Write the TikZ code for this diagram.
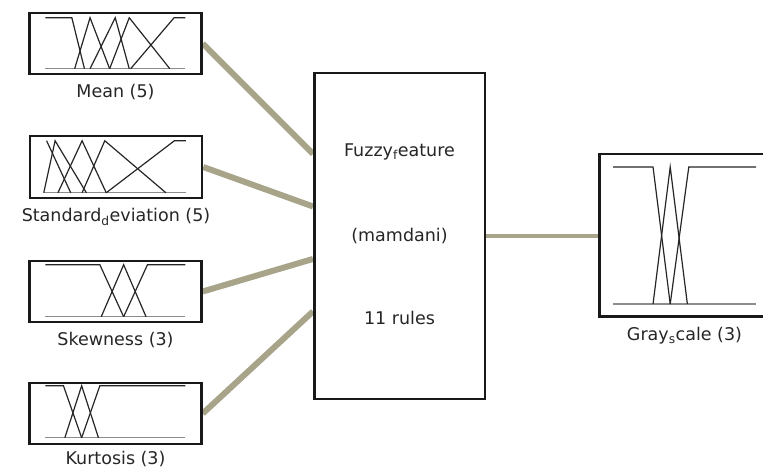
\documentclass[tikz,border=0pt]{standalone}
\usepackage{fontspec}
\setmainfont{DejaVu Sans}
\usetikzlibrary{positioning,calc,backgrounds}

\definecolor{wirecol}{HTML}{A8A48A}
\tikzset{
  mfbox/.style={draw=black!90, fill=white, line width=2.5pt, minimum width=172, minimum height=61, inner sep=0pt},
  mflabel/.style={font=\fontsize{17.5}{20}\selectfont, text=black!85, inner sep=0pt},
  mfcurve/.style={black!85, line width=1.2pt},
  mfbase/.style={black!45, line width=1.2pt},
  wire/.style={draw=wirecol, line width=6pt},
}

\begin{document}
\begin{tikzpicture}[x=1pt,y=-1pt]
	\useasboundingbox (0,0) rectangle (763,470);
	\clip (0,0) rectangle (763,470);
	% inputs
	\node[mfbox] (mean) at (115.5,43.5) {};
	\node[mfbox, minimum height=62] (sd) at (116,167) {};
	\node[mfbox] (skew) at (115.5,291.5) {};
	\node[mfbox] (kurt) at (115.5,413.5) {};
	% rule block, output
	\node[mfbox, minimum width=170.5, minimum height=325.5] (fis) at (399.5,236) {};
	\node[mfbox, minimum width=170.5, minimum height=162.5] (gray) at (684.5,235.5) {};

	\node[mflabel, below=9pt of mean] (meanlbl) {Mean (5)};
	\node[mflabel, below=9pt of sd] (sdlbl) {Standard\textsubscript{d}eviation (5)};
	\node[mflabel, below=9pt of skew] (skewlbl) {Skewness (3)};
	\node[mflabel, below=6pt of kurt] (kurtlbl) {Kurtosis (3)};
	\node[mflabel, below=9pt of gray] (graylbl) {Gray\textsubscript{s}cale (3)};

	\node[mflabel] (fisname) at ($(fis.center)+(0,-84)$) {Fuzzy\textsubscript{f}eature};
	\node[mflabel] (fistype) at (fis.center) {(mamdani)};
	\node[mflabel] (fisrules) at ($(fis.center)+(0,82)$) {11 rules};

	\begin{pgfonlayer}{background}
		\foreach \src/\f in {mean/0.25, sd/0.41, skew/0.57, kurt/0.73}
			\draw[wire] (\src.east) -- ($(fis.north west)!\f!(fis.south west)$);
		\draw[wire, line width=4pt] (fis.east) -- (fis.east -| gray.west);
	\end{pgfonlayer}

	% membership functions
	\begin{scope}[shift={($(mean.north west)+(17,6)$)}, xscale=140, yscale=51]
		\draw[mfbase] (0,1) -- (1,1);
		\draw[mfcurve] (0,0) -- (0.19,0) -- (0.28,1);
		\draw[mfcurve] (0.21,1) -- (0.32,0) -- (0.46,1);
		\draw[mfcurve] (0.32,1) -- (0.50,0) -- (0.60,1);
		\draw[mfcurve] (0.46,1) -- (0.60,0) -- (0.89,1);
		\draw[mfcurve] (0.61,1) -- (0.92,0) -- (1,0);
	\end{scope}
	\begin{scope}[shift={($(sd.north west)+(15,6)$)}, xscale=142, yscale=52]
		\draw[mfbase] (0,1) -- (1,1);
		\draw[mfcurve] (0.02,0) -- (0.19,1);
		\draw[mfcurve] (0,1) -- (0.08,0) -- (0.30,1);
		\draw[mfcurve] (0.10,1) -- (0.27,0) -- (0.44,1);
		\draw[mfcurve] (0.27,1) -- (0.43,0) -- (0.86,1);
		\draw[mfcurve] (0.44,1) -- (0.92,0) -- (1,0);
	\end{scope}
	\begin{scope}[shift={($(skew.north west)+(17,5)$)}, xscale=140, yscale=52]
		\draw[mfbase] (0,1) -- (1,1);
		\draw[mfcurve] (0,0) -- (0.39,0) -- (0.56,1);
		\draw[mfcurve] (0.40,1) -- (0.56,0) -- (0.72,1);
		\draw[mfcurve] (0.56,1) -- (0.73,0) -- (1,0);
	\end{scope}
	\begin{scope}[shift={($(kurt.north west)+(17,4)$)}, xscale=140, yscale=52]
		\draw[mfbase] (0,1) -- (1,1);
		\draw[mfcurve] (0,0) -- (0.13,0) -- (0.26,1);
		\draw[mfcurve] (0.14,1) -- (0.26,0) -- (0.38,1);
		\draw[mfcurve] (0.26,1) -- (0.39,0) -- (1,0);
	\end{scope}
	\begin{scope}[shift={($(gray.north west)+(15,14)$)}, xscale=143, yscale=137]
		\draw[mfbase] (0,1) -- (1,1);
		\draw[mfcurve] (0,0) -- (0.28,0) -- (0.40,1);
		\draw[mfcurve] (0.28,1) -- (0.40,0) -- (0.52,1);
		\draw[mfcurve] (0.40,1) -- (0.53,0) -- (1,0);
	\end{scope}
\end{tikzpicture}
\end{document}
